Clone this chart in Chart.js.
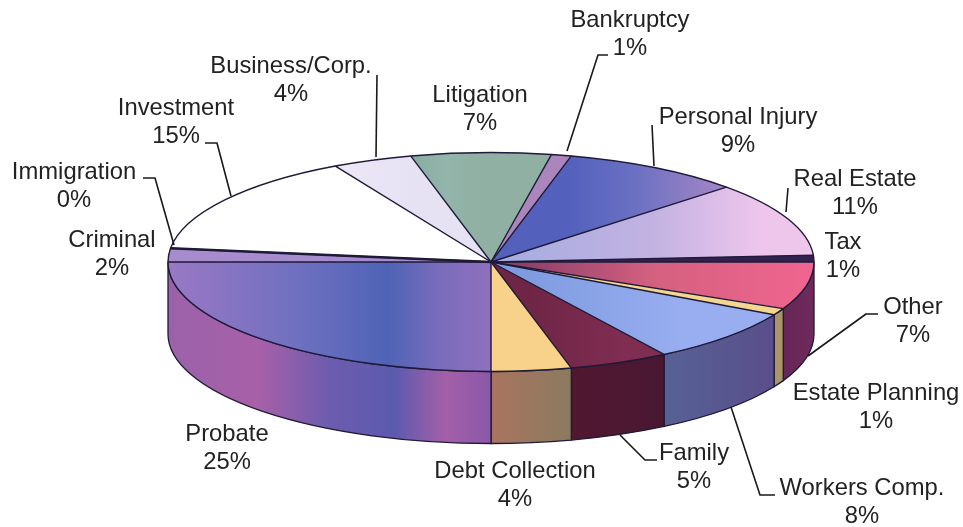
<!DOCTYPE html>
<html>
<head>
<meta charset="utf-8">
<style>html,body{margin:0;padding:0;background:#fff}canvas{display:block}</style>
<script src="https://cdn.jsdelivr.net/npm/chart.js@4"></script>
</head>
<body>
<canvas id="c" width="963" height="527"></canvas>
<script>
const categories = ["Litigation","Bankruptcy","Personal Injury","Real Estate","Tax","Other","Estate Planning","Workers Comp.","Family","Debt Collection","Probate","Criminal","Immigration","Investment","Business/Corp."];
const shares = [7,1,9,11,1,7,1,8,5,4,25,2,0,15,4];
const firstSliceAngle = -14.4;
// gradient stops across the pie width: [fraction, colour]
const topColors = [
  [[0.37,"#86ab9f"],[0.43,"#93b5ab"],[0.48,"#8fb0a2"]],
  "#ab86bd",
  [[0.62,"#5361bd"],[0.72,"#6a70c2"],[0.86,"#a586c6"]],
  [[0.55,"#a9aee0"],[0.75,"#c2b2e2"],[0.92,"#eec6ec"]],
  "#32204f",
  [[0.55,"#8e3f6a"],[0.75,"#d4607f"],[1,"#f0658f"]],
  "#f3d68f",
  [[0.55,"#7f9be0"],[0.8,"#98aef0"]],
  [[0.55,"#6e2546"],[0.7,"#7f2d50"]],
  "#f8d28a",
  [[0,"#9a78c4"],[0.2,"#6f70c0"],[0.34,"#4f63b6"],[0.42,"#7a6cbc"],[0.5,"#8f70be"]],
  "#a68bcf",
  "#14101f",
  "#ffffff",
  [[0.28,"#ece6f6"],[0.38,"#e6e2f4"]]
];
const sideColors = [
  "#777","#777","#777","#777","#777",
  [[0.9,"#5c2450"],[1,"#6f2a5c"]],
  "#a99566",
  [[0.76,"#566296"],[0.93,"#5a4f8a"]],
  [[0.6,"#521830"],[0.76,"#4a1732"]],
  [[0.5,"#a9745f"],[0.62,"#8c7a60"]],
  [[0,"#9a62aa"],[0.14,"#a860a8"],[0.25,"#6c5cae"],[0.35,"#5c5aae"],[0.43,"#a45fa8"],[0.5,"#8a58a8"]],
  "#777","#777","#777","#777"
];
const labelLines = {
  "Litigation":[480,95],"Bankruptcy":[630,20],"Personal Injury":[738,117],"Real Estate":[855,179],
  "Tax":[843,242],"Other":[913,307],"Estate Planning":[876,393],"Workers Comp.":[862,488],
  "Family":[694,453],"Debt Collection":[515,471],"Probate":[227,434],"Criminal":[112,240],
  "Immigration":[74,172],"Investment":[176,108],"Business/Corp.":[291,66]
};
const leaders = [
  [[608,55],[598,55],[567,151]],
  [[377,75],[376,157]],
  [[205,143],[217,143],[231,196]],
  [[143,178],[155,178],[174,245]],
  [[652,125],[654,166]],
  [[788,188],[786,212]],
  [[878,314],[866,314],[808,356]],
  [[620,435],[645,460],[657,460]],
  [[731,407],[760,495],[775,495]]
];
const pie = {cx:491, cy:262, rx:323, ry:109.5, depth:72};
const ink = "#1e1a38";

function paint(ctx, spec, left, width){
  if (typeof spec === "string") return spec;
  const g = ctx.createLinearGradient(left,0,left+width,0);
  spec.forEach(s => g.addColorStop(s[0], s[1]));
  return g;
}
const TAU = Math.PI*2;

const pie3d = {
  id:"pie3d",
  beforeDatasetsDraw(chart){
    const ctx = chart.ctx, {cx,cy,rx,ry,depth} = pie;
    const arcs = chart.getDatasetMeta(0).data;
    ctx.save();
    arcs.forEach((a,i) => {
      let s = a.startAngle, e = a.endAngle;
      if (e <= s) return;
      while (s < -1e-6 && e <= 0) { s += TAU; e += TAU; }
      if (s < 0) s = 0;
      const a0 = Math.max(s,0), a1 = Math.min(e,Math.PI);
      if (a1 <= a0) return;
      ctx.beginPath();
      ctx.ellipse(cx,cy,rx,ry,0,a0,a1);
      ctx.ellipse(cx,cy+depth,rx,ry,0,a1,a0,true);
      ctx.closePath();
      ctx.fillStyle = paint(ctx, sideColors[i], cx-rx, 2*rx);
      ctx.fill();
      ctx.strokeStyle = ink; ctx.lineWidth = 1.3; ctx.stroke();
    });
    ctx.restore();
    // squash the library's circular pie into the tilted top face
    const a = arcs[0];
    ctx.save();
    ctx.translate(cx,cy);
    ctx.scale(rx/a.outerRadius, ry/a.outerRadius);
    ctx.translate(-a.x,-a.y);
  },
  afterDatasetsDraw(chart){
    const ctx = chart.ctx, {cx,cy,rx,ry} = pie;
    ctx.restore();
    const arcs = chart.getDatasetMeta(0).data;
    ctx.save();
    ctx.strokeStyle = ink; ctx.lineJoin = "round";
    arcs.forEach((a,i) => {
      ctx.beginPath();
      ctx.moveTo(cx,cy);
      ctx.lineTo(cx+rx*Math.cos(a.startAngle), cy+ry*Math.sin(a.startAngle));
      ctx.lineWidth = shares[i] === 0 ? 2.6 : 1.4;
      if (shares[i] !== 0) ctx.ellipse(cx,cy,rx,ry,0,a.startAngle,a.endAngle);
      ctx.stroke();
    });
    // leaders
    ctx.strokeStyle = "#1a1a1a"; ctx.lineWidth = 1.6;
    leaders.forEach(pts => {
      ctx.beginPath();
      pts.forEach((p,k) => k ? ctx.lineTo(p[0],p[1]) : ctx.moveTo(p[0],p[1]));
      ctx.stroke();
    });
    // labels
    ctx.font = '23.8px "Liberation Sans", Arial, sans-serif';
    ctx.fillStyle = "#222222"; ctx.textAlign = "center"; ctx.textBaseline = "middle";
    categories.forEach((name,i) => {
      const [x,y] = labelLines[name];
      ctx.fillText(name, x, y);
      ctx.fillText(shares[i] + "%", x, y+28);
    });
    ctx.restore();
  }
};

const chart = new Chart(document.getElementById("c"), {
  type:"pie",
  data:{labels:categories, datasets:[{
    data:shares,
    borderWidth:0,
    backgroundColor(c){
      const R = c.chart.chartArea ? Math.min(c.chart.chartArea.width,c.chart.chartArea.height)/2 : 263;
      const X = c.chart.chartArea ? (c.chart.chartArea.left+c.chart.chartArea.right)/2 : 481;
      return paint(c.chart.ctx, topColors[c.dataIndex], X-R, 2*R);
    }
  }]},
  plugins:[pie3d],
  options:{
    responsive:false, animation:false, rotation:firstSliceAngle,
    layout:{padding:0},
    plugins:{legend:{display:false},tooltip:{enabled:false},title:{display:false}}
  }
});
</script>
</body>
</html>
